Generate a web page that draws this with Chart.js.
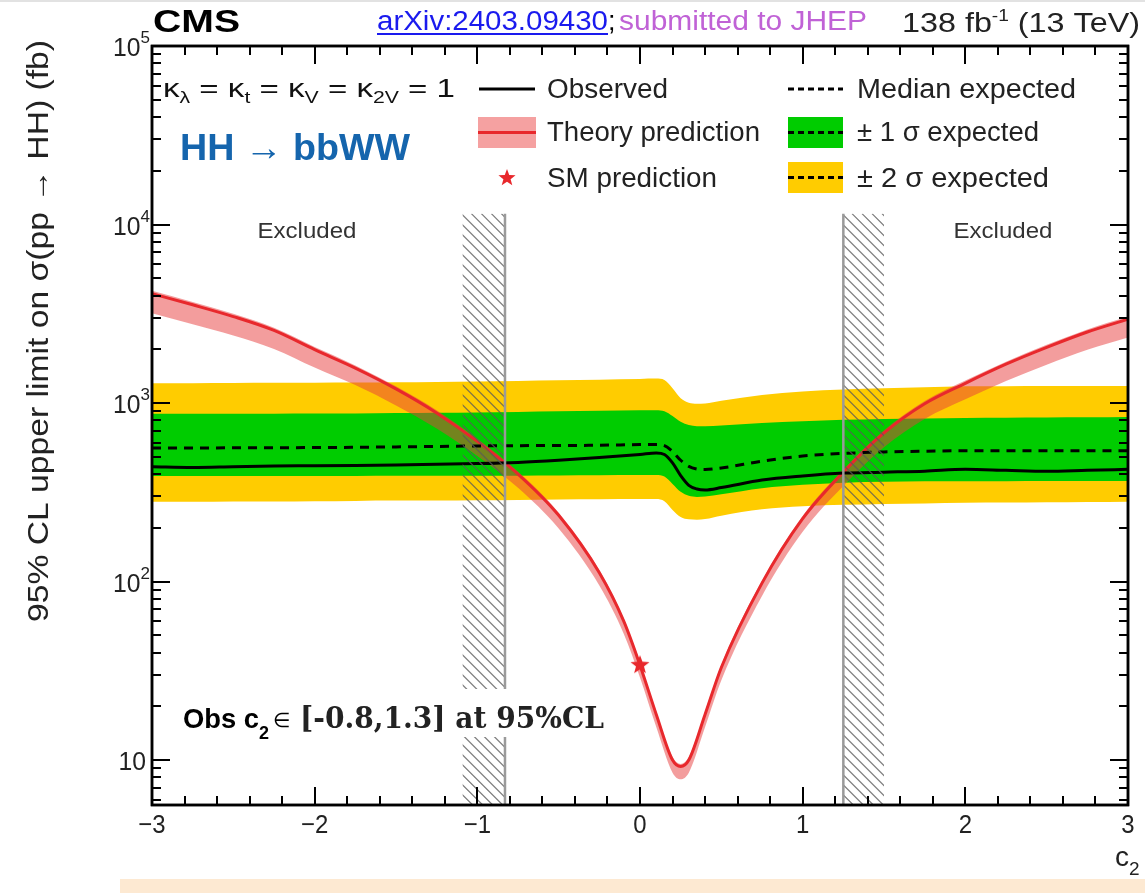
<!DOCTYPE html>
<html>
<head>
<meta charset="utf-8">
<script src="https://cdn.jsdelivr.net/npm/chart.js@4.4.1/dist/chart.umd.min.js"></script>
<style>
  html, body { margin: 0; padding: 0; background: #fff; }
  #wrap { position: relative; width: 1145px; height: 893px; }
  #wrap canvas { position: absolute; left: 0; top: 0; display: block; }
  #axes { pointer-events: none; }
</style>
</head>
<body>
<div id="wrap">
  <canvas id="c" width="1145" height="893"></canvas>
  <canvas id="axes" width="1145" height="893"></canvas>
</div>
<script>
// ---- c2 scan: 95% CL upper limits on sigma(pp -> HH) in fb ----
const limC2    = [-3, -2.75, -2.5, -2.25, -2, -1.75, -1.5, -1.25, -1, -0.75, -0.5, -0.25, 0, 0.1, 0.15, 0.2, 0.25, 0.3, 0.35, 0.4, 0.5, 0.75, 1, 1.25, 1.5, 1.75, 2, 2.25, 2.5, 2.75, 3];
const observed = [440, 436, 440, 444, 445, 447, 450, 454, 458, 465, 478, 495, 515, 525, 515, 462, 392, 346, 330, 326, 336, 370, 390, 405, 410, 415, 425, 420, 415, 420, 425];
const expected = [560, 560, 561, 562, 563, 565, 568, 571, 575, 577, 578, 580, 585, 586, 578, 535, 478, 442, 427, 424, 433, 472, 505, 522, 532, 537, 540, 540, 540, 540, 540];
const sig1Hi   = [870, 870, 870, 872, 873, 875, 878, 882, 886, 892, 898, 904, 910, 910, 898, 845, 785, 752, 742, 740, 748, 772, 790, 805, 815, 820, 825, 828, 830, 832, 835];
const sig1Lo   = [390, 390, 390, 390, 390, 390, 391, 391, 392, 392, 393, 394, 395, 395, 387, 352, 318, 302, 298, 299, 308, 333, 348, 358, 362, 364, 365, 365, 366, 366, 366];
const sig2Hi   = [1290, 1292, 1295, 1297, 1300, 1303, 1307, 1312, 1320, 1328, 1340, 1352, 1365, 1370, 1345, 1210, 1065, 1005, 992, 995, 1030, 1110, 1160, 1190, 1210, 1225, 1240, 1243, 1245, 1245, 1245];
const sig2Lo   = [280, 280, 281, 281, 282, 283, 284, 284, 285, 286, 288, 289, 290, 290, 282, 252, 230, 223, 222, 224, 234, 254, 264, 269, 272, 274, 276, 277, 278, 279, 280];

// ---- theory cross section vs c2 (fb) ----
const theoryC2 = [-3, -2.75, -2.5, -2.25, -2, -1.75, -1.5, -1.25, -1, -0.75, -0.5, -0.25, -0.1, 0, 0.1, 0.2, 0.25, 0.3, 0.4, 0.5, 0.75, 1, 1.25, 1.5, 1.75, 2, 2.25, 2.5, 2.75, 3];
const theory   = [4100, 3550, 3050, 2550, 1990, 1570, 1200, 880, 610, 400, 235, 112, 60, 34, 18, 10, 9.2, 10, 18, 33, 98, 225, 410, 680, 990, 1290, 1650, 2050, 2500, 2950];
const theoryHi = [4250, 3680, 3160, 2640, 2060, 1625, 1240, 910, 630, 413, 243, 116, 62, 35.2, 18.6, 10.4, 9.5, 10.4, 18.6, 34.2, 101, 233, 424, 703, 1025, 1335, 1705, 2120, 2585, 3050];
const theoryLo = [3180, 2760, 2390, 2010, 1580, 1260, 970, 720, 505, 335, 198, 95, 51, 29, 15.3, 8.5, 7.8, 8.5, 15.3, 28, 83, 190, 343, 565, 815, 1050, 1330, 1640, 1990, 2330];

// ---- SM point and excluded ranges ----
const smC2 = [0];
const smXs = [34];
const excludedRanges = [[-1.09, -0.83], [1.25, 1.50]];
const obsBoundaries  = [-0.83, 1.25];
const hatchTop = 1.15e4;

// ---- axis ranges and ticks ----
const X_MIN = -3, X_MAX = 3;
const Y_MIN = 5.6, Y_MAX = 1e5;
const xTicks = [-3, -2, -1, 0, 1, 2, 3];
const xMinorStep = 0.2;
const yDecades = [1, 2, 3, 4, 5];

const pts = (xv, yv) => xv.map((x, i) => ({ x: x, y: yv[i] }));

// filled five-point star used as a point marker
function drawStar(g, cx, cy, r, color) {
  g.beginPath();
  for (let i = 0; i < 10; i++) {
    const rr = i % 2 === 0 ? r : r * 0.42;
    const ang = -Math.PI / 2 + i * Math.PI / 5;
    const px = cx + rr * Math.cos(ang), py = cy + rr * Math.sin(ang);
    if (i === 0) g.moveTo(px, py); else g.lineTo(px, py);
  }
  g.closePath();
  g.fillStyle = color;
  g.fill();
}
function starCanvas(r, color) {
  const c = document.createElement('canvas');
  const s = Math.ceil(r * 2 + 2);
  c.width = s; c.height = s;
  drawStar(c.getContext('2d'), s / 2, s / 2, r, color);
  return c;
}

const RED = '#e8282c';
const YELLOW = '#ffcc00';
const GREEN = '#00cc00';
const PINK = 'rgba(232,60,60,0.5)';
const SANS = '"Liberation Sans", Arial, Helvetica, sans-serif';
const SERIF = '"DejaVu Serif", "Liberation Serif", serif';

// text helpers: draw a run of segments, optionally squeezed to a given width
function runWidth(ctx, segs) {
  let w = 0;
  for (const s of segs) { ctx.font = s.font; w += ctx.measureText(s.t).width; }
  return w;
}
function drawRun(ctx, x, y, segs, opt) {
  opt = opt || {};
  const w = runWidth(ctx, segs);
  const sx = opt.width ? opt.width / w : (opt.sx || 1);
  let x0 = x;
  if (opt.align === 'center') x0 = x - w * sx / 2;
  else if (opt.align === 'right') x0 = x - w * sx;
  ctx.save();
  ctx.translate(x0, y);
  ctx.scale(sx, 1);
  ctx.textBaseline = 'alphabetic';
  ctx.textAlign = 'left';
  let cx = 0;
  for (const s of segs) {
    ctx.font = s.font;
    ctx.fillStyle = s.color || '#111';
    ctx.fillText(s.t, cx, s.dy || 0);
    cx += ctx.measureText(s.t).width;
  }
  ctx.restore();
  return x0 + w * sx;
}
const seg = (t, font, dy, color) => ({ t, font, dy, color });

// frame with inward tick marks on all four sides
function drawAxesFrame(ctx, chart) {
  const area = chart.chartArea;
  const sx = chart.scales.x, sy = chart.scales.y;
  ctx.save();
  ctx.strokeStyle = '#000';
  ctx.lineWidth = 2;
  ctx.beginPath();
  const nMinor = Math.round((X_MAX - X_MIN) / xMinorStep);
  for (let i = 0; i <= nMinor; i++) {
    const v = X_MIN + i * xMinorStep;
    const len = Math.abs(v - Math.round(v)) < 1e-6 ? 18 : 9;
    const xp = Math.round(sx.getPixelForValue(v));
    ctx.moveTo(xp, area.bottom); ctx.lineTo(xp, area.bottom - len);
    ctx.moveTo(xp, area.top); ctx.lineTo(xp, area.top + len);
  }
  for (let d = 0; d <= 5; d++) {
    for (let m = 1; m <= 9; m++) {
      const v = m * Math.pow(10, d);
      if (v < Y_MIN || v > Y_MAX) continue;
      const len = m === 1 ? 18 : 9;
      const yp = Math.round(sy.getPixelForValue(v));
      ctx.moveTo(area.left, yp); ctx.lineTo(area.left + len, yp);
      ctx.moveTo(area.right, yp); ctx.lineTo(area.right - len, yp);
    }
  }
  ctx.stroke();
  ctx.lineWidth = 2.5;
  ctx.strokeRect(area.left, area.top, area.right - area.left, area.bottom - area.top);
  ctx.restore();
}

// white page, thin top rule and the peach strip along the bottom
const background = {
  id: 'background',
  beforeDraw(chart) {
    const ctx = chart.ctx;
    ctx.save();
    ctx.fillStyle = '#fff';
    ctx.fillRect(0, 0, chart.width, chart.height);
    ctx.fillStyle = '#e2e2e2';
    ctx.fillRect(0, 0, chart.width, 2);
    ctx.fillStyle = '#fde9d2';
    ctx.fillRect(120, 879, chart.width - 120, chart.height - 879);
    ctx.restore();
  }
};

// hatched excluded ranges and observed-limit boundaries
const exclusion = {
  id: 'exclusion',
  afterDatasetsDraw(chart) {
    const ctx = chart.ctx;
    const bottom = chart.chartArea.bottom;
    const sx = chart.scales.x, sy = chart.scales.y;
    const yT = sy.getPixelForValue(hatchTop);
    for (const r of excludedRanges) {
      const x0 = sx.getPixelForValue(r[0]), x1 = sx.getPixelForValue(r[1]);
      ctx.save();
      ctx.beginPath();
      ctx.rect(x0, yT, x1 - x0, bottom - yT);
      ctx.clip();
      ctx.strokeStyle = 'rgba(90,90,90,0.8)';
      ctx.lineWidth = 1.2;
      ctx.beginPath();
      const h = bottom - yT;
      for (let k = x0 - h; k < x1 + 10; k += 10) {
        ctx.moveTo(k, yT);
        ctx.lineTo(k + h, bottom);
      }
      ctx.stroke();
      ctx.restore();
    }
    ctx.save();
    ctx.strokeStyle = '#9a9a9a';
    ctx.lineWidth = 2.5;
    for (const b of obsBoundaries) {
      const xp = sx.getPixelForValue(b);
      ctx.beginPath();
      ctx.moveTo(xp, yT);
      ctx.lineTo(xp, bottom);
      ctx.stroke();
    }
    ctx.restore();
  }
};

// texts, labels and legend
const decorations = {
  id: 'decorations',
  afterDraw(chart) {
    const ctx = chart.ctx;
    const sx = chart.scales.x, sy = chart.scales.y;

    drawRun(ctx, 307, 238, [seg('Excluded', '22px ' + SANS, 0, '#333')], { align: 'center', width: 99 });
    drawRun(ctx, 1003, 238, [seg('Excluded', '22px ' + SANS, 0, '#333')], { align: 'center', width: 99 });

    // observed interval annotation on a white box
    ctx.save();
    ctx.fillStyle = '#fff';
    ctx.fillRect(178, 689, 428, 48);
    ctx.restore();
    let ex = drawRun(ctx, 183, 728, [seg('Obs c', 'bold 27px ' + SANS, 0, '#000')], { width: 76 });
    ex = drawRun(ctx, ex, 739, [seg('2', 'bold 18px ' + SANS, 0, '#000')]);
    drawRun(ctx, ex + 4, 727, [seg('\u2208', '20px ' + SANS, 0, '#000')]);
    drawRun(ctx, 300, 728, [seg('[-0.8,1.3] at 95%CL', 'bold 30px ' + SERIF, 0, '#222')], { width: 304 });

    // x tick labels
    for (const t of xTicks) {
      const lab = t < 0 ? '\u2212' + Math.abs(t) : String(t);
      drawRun(ctx, sx.getPixelForValue(t), 833, [seg(lab, '26px ' + SANS, 0, '#222')], { align: 'center', sx: 0.92 });
    }
    // y tick labels
    for (const d of yDecades) {
      const yp = sy.getPixelForValue(Math.pow(10, d));
      if (d === 1) {
        drawRun(ctx, 146, yp + 10, [seg('10', '26px ' + SANS, 0, '#222')], { align: 'right', sx: 0.95 });
      } else {
        ctx.font = '17px ' + SANS;
        const ew = ctx.measureText(String(d)).width;
        drawRun(ctx, 150, yp - 3, [seg(String(d), '17px ' + SANS, 0, '#222')], { align: 'right' });
        drawRun(ctx, 150 - ew, yp + 10, [seg('10', '26px ' + SANS, 0, '#222')], { align: 'right', sx: 0.95 });
      }
    }
    // axis titles
    drawRun(ctx, 1115, 866, [seg('c', '28px ' + SANS, 0, '#222'), seg('2', '19px ' + SANS, 9, '#222')]);
    ctx.save();
    ctx.translate(48, 331);
    ctx.rotate(-Math.PI / 2);
    drawRun(ctx, 0, 0, [seg('95% CL upper limit on \u03c3(pp \u2192 HH) (fb)', '29px ' + SANS, 0, '#222')], { align: 'center', width: 582 });
    ctx.restore();

    // header
    drawRun(ctx, 153, 32, [seg('CMS', 'bold 32px ' + SANS, 0, '#000')], { width: 87 });
    const aEnd = drawRun(ctx, 377, 30, [seg('arXiv:2403.09430', '27px ' + SANS, 0, '#1a1aee')], { width: 231 });
    ctx.save();
    ctx.fillStyle = '#1a1aee';
    ctx.fillRect(377, 33, aEnd - 377, 2);
    ctx.restore();
    drawRun(ctx, aEnd, 30, [seg(';', '27px ' + SANS, 0, '#000')]);
    drawRun(ctx, 619, 30, [seg('submitted to JHEP', '27px ' + SANS, 0, '#c062d6')], { width: 248 });
    drawRun(ctx, 902, 32, [
      seg('138 fb', '27px ' + SANS, 0, '#222'),
      seg('-1', '16px ' + SANS, -11, '#222'),
      seg(' (13 TeV)', '27px ' + SANS, 0, '#222')
    ], { width: 238 });

    // coupling assumptions
    const K = '25px ' + SANS, KS = '16px ' + SANS;
    drawRun(ctx, 163, 97, [
      seg('\u03ba', K), seg('\u03bb', KS, 6), seg(' = \u03ba', K), seg('t', KS, 6),
      seg(' = \u03ba', K), seg('V', KS, 6), seg(' = \u03ba', K), seg('2V', KS, 6), seg(' = 1', K)
    ], { width: 292 });

    // channel label
    drawRun(ctx, 180, 160, [seg('HH \u2192 bbWW', 'bold 37px ' + SANS, 0, '#1565ad')], { width: 230 });

    // legend symbols
    ctx.save();
    ctx.lineWidth = 3;
    ctx.strokeStyle = '#000';
    ctx.setLineDash([]);
    ctx.beginPath(); ctx.moveTo(479, 89); ctx.lineTo(535, 89); ctx.stroke();
    ctx.fillStyle = 'rgba(240,110,110,0.65)';
    ctx.fillRect(478, 117, 58, 31);
    ctx.strokeStyle = RED;
    ctx.beginPath(); ctx.moveTo(478, 132.5); ctx.lineTo(536, 132.5); ctx.stroke();
    drawStar(ctx, 507, 178, 9, RED);

    ctx.strokeStyle = '#000';
    ctx.setLineDash([6, 4]);
    ctx.beginPath(); ctx.moveTo(788, 89); ctx.lineTo(843, 89); ctx.stroke();
    ctx.setLineDash([]);
    ctx.fillStyle = GREEN;
    ctx.fillRect(788, 117, 55, 31);
    ctx.fillStyle = YELLOW;
    ctx.fillRect(788, 162, 55, 31);
    ctx.setLineDash([6, 4]);
    ctx.beginPath(); ctx.moveTo(788, 132.5); ctx.lineTo(843, 132.5); ctx.stroke();
    ctx.beginPath(); ctx.moveTo(788, 177.5); ctx.lineTo(843, 177.5); ctx.stroke();
    ctx.restore();

    // legend texts
    const LF = '27px ' + SANS;
    drawRun(ctx, 547, 98, [seg('Observed', LF, 0, '#222')], { width: 121 });
    drawRun(ctx, 547, 141, [seg('Theory prediction', LF, 0, '#222')], { width: 213 });
    drawRun(ctx, 547, 187, [seg('SM prediction', LF, 0, '#222')], { width: 170 });
    drawRun(ctx, 857, 98, [seg('Median expected', LF, 0, '#222')], { width: 219 });
    drawRun(ctx, 857, 141, [seg('\u00b1 1 \u03c3 expected', LF, 0, '#222')], { width: 182 });
    drawRun(ctx, 857, 187, [seg('\u00b1 2 \u03c3 expected', LF, 0, '#222')], { width: 192 });

    drawAxesFrame(ctx, chart);
  }
};

const band = { pointRadius: 0, borderWidth: 0, borderColor: 'rgba(0,0,0,0)', cubicInterpolationMode: 'monotone' };

const chart = new Chart(document.getElementById('c'), {
  type: 'line',
  data: {
    datasets: [
      { ...band, label: '\u00b1 2 \u03c3 expected', data: pts(limC2, sig2Hi), fill: '+1', backgroundColor: YELLOW, order: 10 },
      { ...band, label: '2 sigma low', data: pts(limC2, sig2Lo), fill: false, order: 10 },
      { ...band, label: '\u00b1 1 \u03c3 expected', data: pts(limC2, sig1Hi), fill: '+1', backgroundColor: GREEN, order: 9 },
      { ...band, label: '1 sigma low', data: pts(limC2, sig1Lo), fill: false, order: 9 },
      { ...band, label: 'Theory band', data: pts(theoryC2, theoryHi), fill: '+1', backgroundColor: PINK, order: 8 },
      { ...band, label: 'Theory low', data: pts(theoryC2, theoryLo), fill: false, order: 8 },
      { label: 'Theory prediction', data: pts(theoryC2, theory), borderColor: RED, borderWidth: 3, pointRadius: 0, fill: false, cubicInterpolationMode: 'monotone', order: 7 },
      { label: 'Median expected', data: pts(limC2, expected), borderColor: '#000', borderWidth: 3, borderDash: [9, 7], pointRadius: 0, fill: false, cubicInterpolationMode: 'monotone', order: 6 },
      { label: 'Observed', data: pts(limC2, observed), borderColor: '#000', borderWidth: 3, pointRadius: 0, fill: false, cubicInterpolationMode: 'monotone', order: 5 },
      { label: 'SM prediction', data: pts(smC2, smXs), showLine: false, pointStyle: starCanvas(10, RED), pointRadius: 10, order: 4 }
    ]
  },
  options: {
    responsive: false,
    animation: false,
    devicePixelRatio: 1,
    layout: { padding: { left: 152, top: 46, right: 17, bottom: 88 } },
    plugins: { legend: { display: false }, tooltip: { enabled: false }, filler: { propagate: false } },
    scales: {
      x: { type: 'linear', min: X_MIN, max: X_MAX, display: false },
      y: { type: 'logarithmic', min: Y_MIN, max: Y_MAX, display: false }
    }
  },
  plugins: [background, exclusion, decorations]
});

// the same frame and ticks on a transparent layer above the chart canvas
const overlay = document.getElementById('axes').getContext('2d');
overlay.clearRect(0, 0, 1145, 893);
drawAxesFrame(overlay, chart);
</script>
</body>
</html>
